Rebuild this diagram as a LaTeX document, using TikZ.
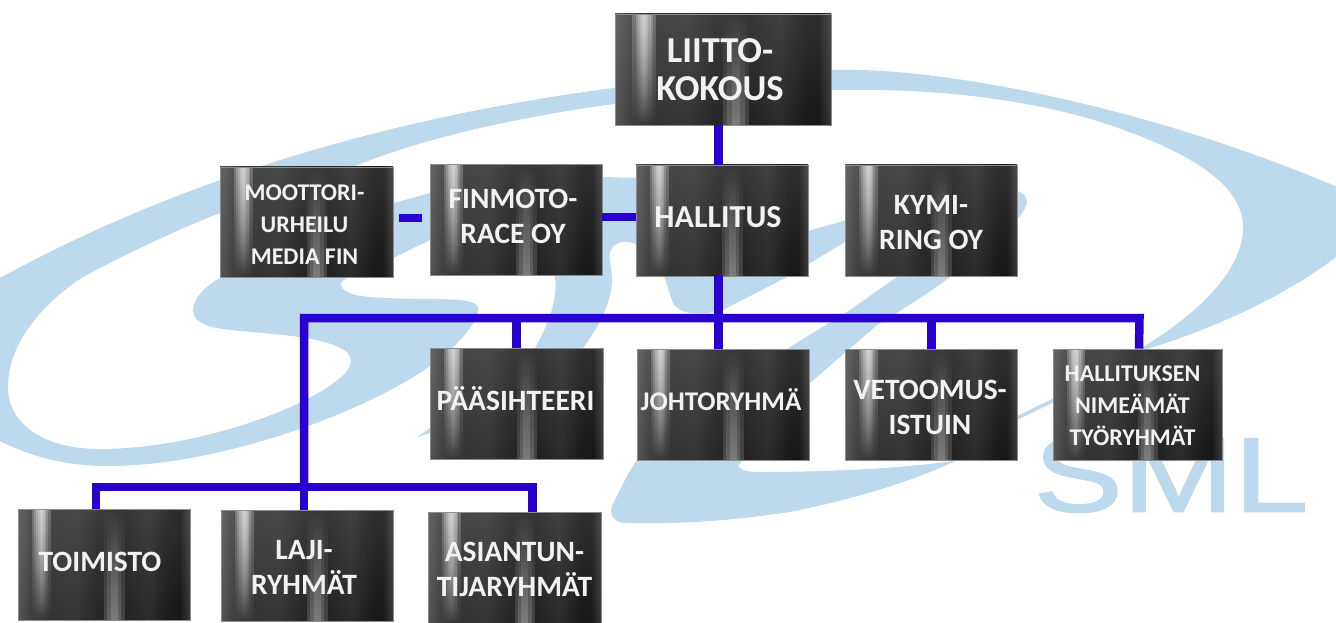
\documentclass[tikz,border=0pt]{standalone}
\usepackage{fontspec}
\setmainfont{Carlito}
\newfontfamily\logofont[FakeBold=1.5]{Liberation Sans}
\usetikzlibrary{calc,fadings}

\definecolor{logoblue}{RGB}{189,217,237}
\definecolor{wireblue}{RGB}{42,0,208}
\definecolor{boxedge}{RGB}{140,140,140}

% Metal look of the boxes
\pgfdeclarehorizontalshading{metal}{100bp}{
  rgb(0bp)=(.33,.33,.33); rgb(25bp)=(.33,.33,.33);
  rgb(29bp)=(.24,.24,.24); rgb(35bp)=(.2,.2,.2);
  rgb(42bp)=(.21,.21,.21); rgb(48bp)=(.15,.15,.15);
  rgb(56bp)=(.13,.13,.13); rgb(63bp)=(.17,.17,.17);
  rgb(69bp)=(.1,.1,.1); rgb(72bp)=(.09,.09,.09);
  rgb(75bp)=(.22,.22,.22); rgb(100bp)=(.22,.22,.22)}
\tikzfading[name=fromtop, top color=transparent!76, middle color=transparent!96, bottom color=transparent!100]
\tikzfading[name=frombottom, bottom color=transparent!84, middle color=transparent!100, top color=transparent!100]
\tikzfading[name=wholebox, top color=transparent!90, bottom color=transparent!100]

% text inside a box, moved a little off its centre
\newcommand\nudge[3]{\raisebox{#2}[\height][\depth]{\kern#1\begin{tabular}{@{}c@{}}#3\end{tabular}\kern-#1}}

\tikzset{
  metalbox/.style={rectangle, shade, shading=metal, draw=boxedge, line width=.8pt,
    minimum width=172pt, minimum height=111pt, inner sep=0pt, align=center, text=white!95!black,
    path picture={
      \fill[white, path fading=wholebox] (path picture bounding box.north west) rectangle (path picture bounding box.south east);
      \foreach \a/\b in {.08/.19,.095/.175,.105/.165,.115/.155,.125/.145}
        \fill[white, path fading=fromtop]
          ($(path picture bounding box.north west)!\a!(path picture bounding box.north east)$)
          rectangle ($(path picture bounding box.south west)!\b!(path picture bounding box.south east)$);
      \foreach \a/\b in {.50/.62,.52/.60,.54/.58}
        \fill[white, path fading=frombottom]
          ($(path picture bounding box.north west)!\a!(path picture bounding box.north east)$)
          rectangle ($(path picture bounding box.south west)!\b!(path picture bounding box.south east)$);
    }},
  bigtext/.style={font=\fontsize{36.5}{37.5}\selectfont\bfseries},
  midtext/.style={font=\fontsize{29.5}{35}\selectfont\bfseries},
  smalltext/.style={font=\fontsize{24}{32}\selectfont\bfseries},
  wire/.style={wireblue, line width=8.5pt, line join=miter}
}

\begin{document}
\begin{tikzpicture}[x=1pt,y=-1pt]
  \useasboundingbox (0,0) rectangle (1336,623);

  % Logo in the background
  \begin{scope}
    \clip (0,0) rectangle (1336,623);
    % ring, its tail and the left bow
    \fill[logoblue] (-30,295) .. controls (150,190) and (430,85) .. (832,70)
      .. controls (950,66) and (1200,115) .. (1420,225) -- (1345,250)
      .. controls (1290,295) and (1210,330) .. (1147,349) -- (1050,404) -- (1017,420)
      .. controls (985,455) and (900,490) .. (790,512) .. controls (720,522) and (680,524) .. (625,523)
      .. controls (610,522) and (608,510) .. (615,500) .. controls (622,485) and (630,470) .. (637,460)
      -- (737,460) .. controls (737,470) and (745,472) .. (760,472) .. controls (830,472) and (930,468) .. (985,455)
      -- (1017,416) -- (1050,400) -- (1143,347)
      .. controls (1200,312) and (1243,270) .. (1243,227) .. controls (1243,185) and (1190,150) .. (1094,120)
      .. controls (1020,98) and (930,88) .. (832,90) .. controls (700,86) and (480,115) .. (358,165)
      .. controls (270,190) and (170,230) .. (83,277) .. controls (40,305) and (8,345) .. (8,387)
      .. controls (8,425) and (45,449) .. (100,449) .. controls (190,449) and (300,412) .. (340,378)
      .. controls (350,370) and (352,362) .. (350,357)
      -- (452,348) .. controls (400,400) and (230,466) .. (110,466) .. controls (60,466) and (20,455) .. (-30,425) -- cycle;
    % inner S and the two diagonal arms
    \fill[logoblue] (350,357) .. controls (348,347) and (320,340) .. (300,337) .. controls (270,333) and (240,332) .. (217,328)
      .. controls (200,325) and (193,318) .. (193,310) .. controls (193,298) and (207,285) .. (220,278)
      -- (394,203) -- (430,193) .. controls (500,183) and (560,178) .. (603,177) -- (637,178) -- (808,231) -- (847,220)
      .. controls (920,205) and (990,192) .. (1010,190) .. controls (1025,190) and (1030,200) .. (1025,208)
      .. controls (1015,230) and (960,275) .. (877,325) -- (810,383) -- (737,467) -- (637,460) -- (790,347) -- (847,312)
      -- (897,277) -- (950,222) -- (845,242) -- (787,277) -- (723,310)
      .. controls (700,316) and (680,315) .. (673,303) .. controls (668,290) and (665,270) .. (650,255)
      .. controls (640,243) and (625,238) .. (615,245) .. controls (605,252) and (612,265) .. (612,280)
      .. controls (612,300) and (600,325) .. (583,348) -- (430,433) -- (417,437) -- (430,428) -- (535,348)
      .. controls (548,325) and (558,300) .. (555,277) -- (500,240) -- (430,240) -- (393,258) -- (347,278)
      .. controls (338,282) and (338,290) .. (355,295) .. controls (380,300) and (430,298) .. (460,300)
      .. controls (475,302) and (480,305) .. (478,312) .. controls (472,330) and (460,340) .. (452,348) -- (400,375) -- cycle;
  \end{scope}
  \node[logoblue, font=\logofont\fontsize{106}{106}\selectfont, xscale=1.26, transform shape, inner sep=0pt] (smllogo) at (1171,475) {SML};

  % Boxes
  \node[metalbox, bigtext, minimum width=216pt] (liitto) at (723,69.5) {\nudge{-3pt}{-4.5pt}{LIITTO-\\KOKOUS}};
  \node[metalbox, smalltext, minimum width=173pt, minimum height=110pt] (moottori) at (306.5,222) {\nudge{-2pt}{-4pt}{MOOTTORI-\\URHEILU\\MEDIA FIN}};
  \node[metalbox, midtext] (finmoto) at (516,220) {\nudge{-3pt}{1pt}{FINMOTO-\\RACE OY}};
  \node[metalbox, midtext, font=\fontsize{32}{35}\selectfont\bfseries] (hallitus) at (722,220.5) {\nudge{-4pt}{0pt}{HALLITUS}};
  \node[metalbox, midtext] (kymi) at (931,220.5) {\nudge{0pt}{-4pt}{KYMI-\\RING OY}};
  \node[metalbox, midtext, minimum width=173pt] (paasihteeri) at (516.5,404) {\nudge{-1pt}{1pt}{PÄÄSIHTEERI}};
  \node[metalbox, font=\fontsize{27}{35}\selectfont\bfseries] (johto) at (723,404.5) {\nudge{-2pt}{1pt}{JOHTORYHMÄ}};
  \node[metalbox, midtext] (vetoomus) at (931,404.5) {\nudge{-1pt}{-5pt}{VETOOMUS-\\ISTUIN}};
  \node[metalbox, smalltext, minimum width=169pt] (nimeamat) at (1137.5,404.5) {\nudge{-5pt}{-3pt}{HALLITUKSEN\\NIMEÄMÄT\\TYÖRYHMÄT}};
  \node[metalbox, midtext] (toimisto) at (104,564.5) {\nudge{-4pt}{0pt}{TOIMISTO}};
  \node[metalbox, midtext] (laji) at (307,566) {\nudge{-3pt}{-4pt}{LAJI-\\RYHMÄT}};
  \node[metalbox, midtext, minimum width=173pt] (asiantun) at (514.5,568) {\nudge{0pt}{-3.5pt}{ASIANTUN-\\TIJARYHMÄT}};

  % Bus bars and their free ends
  \coordinate (trunk) at (718.5,318);
  \coordinate (busleft) at (304,318);
  \coordinate (lowbus) at (304,487);
  \coordinate (dashleft) at (399,218);
  \coordinate (dashright) at (422,218);

  % Connectors
  \draw[wire] (liitto.south -| trunk) -- (hallitus.north -| trunk);
  \draw[wire] (hallitus.south -| trunk) -- (johto.north -| trunk);
  \draw[wire] (hallitus.west |- 0,217) -- (finmoto.east |- 0,217);
  \draw[wire] (dashleft) -- (dashright);
  \draw[wire] (lowbus) -- (busleft) -- (trunk) -- ++(421,0) -- (nimeamat.north -| 1139,0);
  \draw[wire] (paasihteeri.north -| 516.5,0) -- (trunk -| 516.5,0);
  \draw[wire] (vetoomus.north -| 931.5,0) -- (trunk -| 931.5,0);
  \draw[wire] (toimisto.north -| 96,0) -- (lowbus -| 96,0) -- (lowbus -| 532.5,0) -- (asiantun.north -| 532.5,0);
  \draw[wire] (lowbus) -- (laji.north -| lowbus);
\end{tikzpicture}
\end{document}
